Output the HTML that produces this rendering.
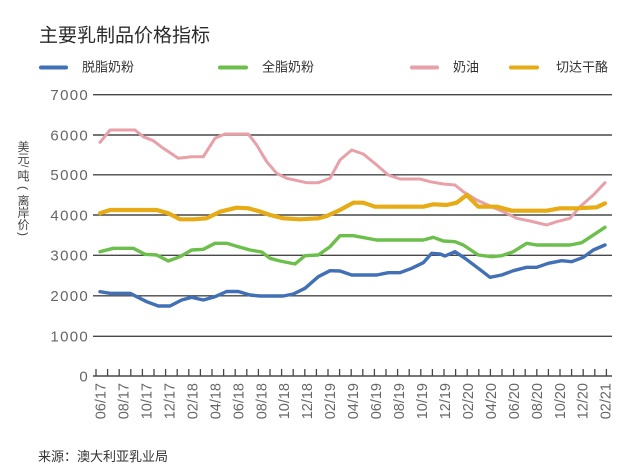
<!DOCTYPE html>
<html>
<head>
<meta charset="utf-8">
<style>
  html, body { margin: 0; padding: 0; background: #ffffff; }
  body { width: 625px; height: 472px; overflow: hidden; }
  svg { display: block; }
  .cjk { font-family: "Liberation Sans", "Noto Sans CJK SC", sans-serif; }
  .num { font-family: "Liberation Sans", sans-serif; }
</style>
</head>
<body>
<svg width="625" height="472" viewBox="0 0 625 472" xmlns="http://www.w3.org/2000/svg">
  <rect x="0" y="0" width="625" height="472" fill="#ffffff"/>

  <text class="cjk" x="39" y="41.5" font-size="19" fill="#2b2b2b">主要乳制品价格指标</text>

  <g stroke-width="4" stroke-linecap="round">
    <line x1="41" y1="67.5" x2="66" y2="67.5" stroke="#4170b6"/>
    <line x1="220" y1="67.5" x2="246" y2="67.5" stroke="#6cbf4b"/>
    <line x1="412" y1="67.5" x2="437" y2="67.5" stroke="#e9a0a8"/>
    <line x1="511" y1="67.5" x2="537" y2="67.5" stroke="#e6ab15"/>
  </g>
  <g class="cjk" font-size="13" fill="#333">
    <text x="82" y="71.5">脱脂奶粉</text>
    <text x="262" y="71.5">全脂奶粉</text>
    <text x="453" y="71.5">奶油</text>
    <text x="556" y="71.5">切达干酪</text>
  </g>

  <g class="cjk" font-size="12" fill="#444" text-anchor="middle">
    <text x="23.5" y="151">美</text>
    <text x="23.5" y="163">元</text>
    <text transform="translate(23.5,166) rotate(90)" font-size="10" dominant-baseline="central">/</text>
    <text x="23.5" y="180">吨</text>
    <text class="num" transform="translate(23.5,188) rotate(90)" font-size="12" dominant-baseline="central">(</text>
    <text x="23.5" y="205">离</text>
    <text x="23.5" y="217">岸</text>
    <text x="23.5" y="229">价</text>
    <text class="num" transform="translate(23.5,234) rotate(90)" font-size="12" dominant-baseline="central">)</text>
  </g>

  <g stroke="#484848" stroke-width="1.4">
    <line x1="93" y1="94.7" x2="612" y2="94.7"/>
    <line x1="93" y1="135" x2="612" y2="135"/>
    <line x1="93" y1="174.8" x2="612" y2="174.8"/>
    <line x1="93" y1="215" x2="612" y2="215"/>
    <line x1="93" y1="255.3" x2="612" y2="255.3"/>
    <line x1="93" y1="295.8" x2="612" y2="295.8"/>
    <line x1="93" y1="336.3" x2="612" y2="336.3"/>
    <line x1="93" y1="376" x2="612" y2="376"/>
  </g>

  <g class="num" font-size="15" fill="#666" text-anchor="end" letter-spacing="1.3">
    <text x="89" y="100">7000</text>
    <text x="89" y="140.3">6000</text>
    <text x="89" y="180.1">5000</text>
    <text x="89" y="220.3">4000</text>
    <text x="89" y="260.6">3000</text>
    <text x="89" y="301.1">2000</text>
    <text x="89" y="341.6">1000</text>
    <text x="89" y="381.3">0</text>
  </g>

  <g stroke="#484848" stroke-width="1.3">
    <line x1="96.0" y1="369" x2="96.0" y2="376"/>
    <line x1="107.6" y1="369" x2="107.6" y2="376"/>
    <line x1="119.2" y1="369" x2="119.2" y2="376"/>
    <line x1="130.8" y1="369" x2="130.8" y2="376"/>
    <line x1="142.4" y1="369" x2="142.4" y2="376"/>
    <line x1="154.0" y1="369" x2="154.0" y2="376"/>
    <line x1="165.6" y1="369" x2="165.6" y2="376"/>
    <line x1="177.2" y1="369" x2="177.2" y2="376"/>
    <line x1="188.8" y1="369" x2="188.8" y2="376"/>
    <line x1="200.4" y1="369" x2="200.4" y2="376"/>
    <line x1="212.0" y1="369" x2="212.0" y2="376"/>
    <line x1="223.6" y1="369" x2="223.6" y2="376"/>
    <line x1="235.2" y1="369" x2="235.2" y2="376"/>
    <line x1="246.8" y1="369" x2="246.8" y2="376"/>
    <line x1="258.4" y1="369" x2="258.4" y2="376"/>
    <line x1="270.0" y1="369" x2="270.0" y2="376"/>
    <line x1="281.6" y1="369" x2="281.6" y2="376"/>
    <line x1="293.2" y1="369" x2="293.2" y2="376"/>
    <line x1="304.8" y1="369" x2="304.8" y2="376"/>
    <line x1="316.4" y1="369" x2="316.4" y2="376"/>
    <line x1="328.0" y1="369" x2="328.0" y2="376"/>
    <line x1="339.6" y1="369" x2="339.6" y2="376"/>
    <line x1="351.2" y1="369" x2="351.2" y2="376"/>
    <line x1="362.8" y1="369" x2="362.8" y2="376"/>
    <line x1="374.4" y1="369" x2="374.4" y2="376"/>
    <line x1="386.0" y1="369" x2="386.0" y2="376"/>
    <line x1="397.6" y1="369" x2="397.6" y2="376"/>
    <line x1="409.2" y1="369" x2="409.2" y2="376"/>
    <line x1="420.8" y1="369" x2="420.8" y2="376"/>
    <line x1="432.4" y1="369" x2="432.4" y2="376"/>
    <line x1="444.0" y1="369" x2="444.0" y2="376"/>
    <line x1="455.6" y1="369" x2="455.6" y2="376"/>
    <line x1="467.2" y1="369" x2="467.2" y2="376"/>
    <line x1="478.8" y1="369" x2="478.8" y2="376"/>
    <line x1="490.4" y1="369" x2="490.4" y2="376"/>
    <line x1="502.0" y1="369" x2="502.0" y2="376"/>
    <line x1="513.6" y1="369" x2="513.6" y2="376"/>
    <line x1="525.2" y1="369" x2="525.2" y2="376"/>
    <line x1="536.8" y1="369" x2="536.8" y2="376"/>
    <line x1="548.4" y1="369" x2="548.4" y2="376"/>
    <line x1="560.0" y1="369" x2="560.0" y2="376"/>
    <line x1="571.6" y1="369" x2="571.6" y2="376"/>
    <line x1="583.2" y1="369" x2="583.2" y2="376"/>
    <line x1="594.8" y1="369" x2="594.8" y2="376"/>
    <line x1="606.4" y1="369" x2="606.4" y2="376"/>
  </g>

  <g class="num" font-size="14.5" fill="#666" text-anchor="end">
    <text transform="translate(105.5,383) rotate(-90)">06/17</text>
    <text transform="translate(128.5,383) rotate(-90)">08/17</text>
    <text transform="translate(151.4,383) rotate(-90)">10/17</text>
    <text transform="translate(174.4,383) rotate(-90)">12/17</text>
    <text transform="translate(197.4,383) rotate(-90)">02/18</text>
    <text transform="translate(220.3,383) rotate(-90)">04/18</text>
    <text transform="translate(243.3,383) rotate(-90)">06/18</text>
    <text transform="translate(266.3,383) rotate(-90)">08/18</text>
    <text transform="translate(289.2,383) rotate(-90)">10/18</text>
    <text transform="translate(312.2,383) rotate(-90)">12/18</text>
    <text transform="translate(335.1,383) rotate(-90)">02/19</text>
    <text transform="translate(358.1,383) rotate(-90)">04/19</text>
    <text transform="translate(381.1,383) rotate(-90)">06/19</text>
    <text transform="translate(404.0,383) rotate(-90)">08/19</text>
    <text transform="translate(427.0,383) rotate(-90)">10/19</text>
    <text transform="translate(450.0,383) rotate(-90)">12/19</text>
    <text transform="translate(472.9,383) rotate(-90)">02/20</text>
    <text transform="translate(495.9,383) rotate(-90)">04/20</text>
    <text transform="translate(518.8,383) rotate(-90)">06/20</text>
    <text transform="translate(541.8,383) rotate(-90)">08/20</text>
    <text transform="translate(564.8,383) rotate(-90)">10/20</text>
    <text transform="translate(587.7,383) rotate(-90)">12/20</text>
    <text transform="translate(610.7,383) rotate(-90)">02/21</text>
  </g>

  <g fill="none" stroke-linejoin="round" stroke-linecap="round">
    <polyline stroke="#4170b6" stroke-width="3.4" points="100,291.7 110,293.3 130,293.3 146.7,301.7 158.3,306 170,306 181.7,300 191.7,297.3 203.3,300 215,296.7 226.7,291.5 238.3,291.5 250,295 260,296 283.3,296 293.3,294 305,288.3 318.3,276.7 330,270.7 340,271 351.7,275 376.7,275 388.3,272.7 400,272.7 411.7,268.3 423.3,262.7 431.7,253.3 440,254 445,256 455,251.7 465,258.3 478.3,268.3 490,277.3 501.7,275 513.3,270.7 526.7,267.3 536.7,267.3 548.3,263.3 561.7,260.7 571.7,261.7 583.3,257.3 593.3,250 605,245"/>
    <polyline stroke="#6cbf4b" stroke-width="3.4" points="100,251.7 113.3,248.3 133.3,248.3 145,254.3 156.7,255 168.3,261 180,256.7 191.7,250 203.3,249.3 215,243.3 226.7,243.3 238.3,246.7 250,250 261.7,252 270,258.3 280,261 295,264 305,255.7 318.3,255 330,246.7 340,235.7 353.3,235.7 376.7,240 423.3,240 433.3,237.3 443.3,241 455,241.7 463.3,245 478.3,255 491.7,256.7 501.7,255.7 513.3,251.7 526.7,243.3 536.7,245 570,245 581.7,242.7 605,227.3"/>
    <polyline stroke="#e9a0a8" stroke-width="3" points="100,142.3 110,130 135,130 143.3,136.7 153.3,140.7 163.3,148.3 178.3,158.3 191.7,156.7 203.3,156.7 215,138.3 225,134 248.3,134 256.7,145 266.7,161.7 276.7,173.3 286.7,178.3 306.7,182.7 318.3,182.7 330,178.3 340,160 351.7,150 363.3,154 376.7,165 388.3,175 400,179 420,179 430,181.7 443.3,184 455,185 463.3,191.7 476.7,200 491.7,206.7 503.3,211.7 516.7,218.3 530,221 546.7,225 556.7,221.7 570,218.3 580,206.7 593.3,195 605,182.7"/>
    <polyline stroke="#e6ab15" stroke-width="4.2" points="100,213.3 110,210 156.7,210 168.3,213.3 180,219.3 193.3,219.3 206.7,218.3 220,211.7 236.7,207.7 248.3,208.3 260,211.5 270,215 283.3,218.3 300,219.3 318.3,218.3 326.7,216 340,210 353.3,202.7 363.3,202.7 375,206.7 423.3,206.7 433.3,204.3 446.7,205 456.7,202.7 466.7,195 478.3,206.7 496.7,206.7 511.7,210.7 546.7,210.7 560,208.3 576.7,208.3 596.7,207.3 605,203.3"/>
  </g>

  <text class="cjk" x="38" y="461" font-size="13" fill="#333">来源：澳大利亚乳业局</text>
</svg>
</body>
</html>
